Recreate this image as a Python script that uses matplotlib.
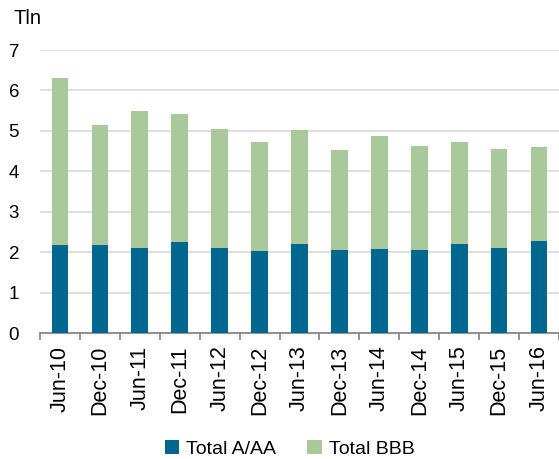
import matplotlib.pyplot as plt
import numpy as np

plt.rcParams['font.family'] = ['Liberation Sans', 'DejaVu Sans']

dates = ['Jun-10', 'Dec-10', 'Jun-11', 'Dec-11', 'Jun-12', 'Dec-12', 'Jun-13',
         'Dec-13', 'Jun-14', 'Dec-14', 'Jun-15', 'Dec-15', 'Jun-16']
total_a_aa = [2.18, 2.18, 2.10, 2.26, 2.11, 2.04, 2.19, 2.05, 2.08, 2.05, 2.20, 2.10, 2.28]
total_all = [6.31, 5.14, 5.49, 5.42, 5.04, 4.73, 5.01, 4.53, 4.88, 4.63, 4.72, 4.56, 4.61]
total_bbb = [t - a for t, a in zip(total_all, total_a_aa)]

fig = plt.figure(figsize=(5.59, 4.59), dpi=100)
ax = fig.add_axes([40/559, 1 - 333/459, 519/559, 283/459])

x = np.arange(len(dates))
ax.bar(x, total_a_aa, width=0.42, color='#006890', label='Total A/AA', zorder=3)
ax.bar(x, total_bbb, width=0.42, bottom=total_a_aa, color='#a9c99a', label='Total BBB', zorder=3)

ax.set_xlim(-0.5, len(dates) - 0.5)
ax.set_ylim(0, 7)
ax.set_yticks(range(8))
ax.yaxis.grid(True, color='#d9d9d9', linewidth=1.2, zorder=0)
ax.tick_params(axis='y', length=0, labelsize=13.5, pad=15)

ax.set_xticks(x)
ax.set_xticklabels(dates, rotation=90, fontsize=15.5)
ax.set_xticks(np.arange(-0.5, len(dates)), minor=True)
ax.tick_params(axis='x', which='major', length=0, pad=9)
ax.tick_params(axis='x', which='minor', length=5, color='#808080', width=1.2)

for s in ['top', 'right', 'left']:
    ax.spines[s].set_visible(False)
ax.spines['bottom'].set_color('#808080')
ax.spines['bottom'].set_linewidth(1.2)

fig.text(14/559, 1 - 18/459, 'Tln', fontsize=14.5, va='center', ha='left')

fig.legend(loc='center', bbox_to_anchor=(0.518, 1 - 449/459), ncol=2, frameon=False,
           fontsize=14, handlelength=0.75, handleheight=0.75, handletextpad=0.35,
           columnspacing=1.6)

fig.savefig('out.png', dpi=100)
